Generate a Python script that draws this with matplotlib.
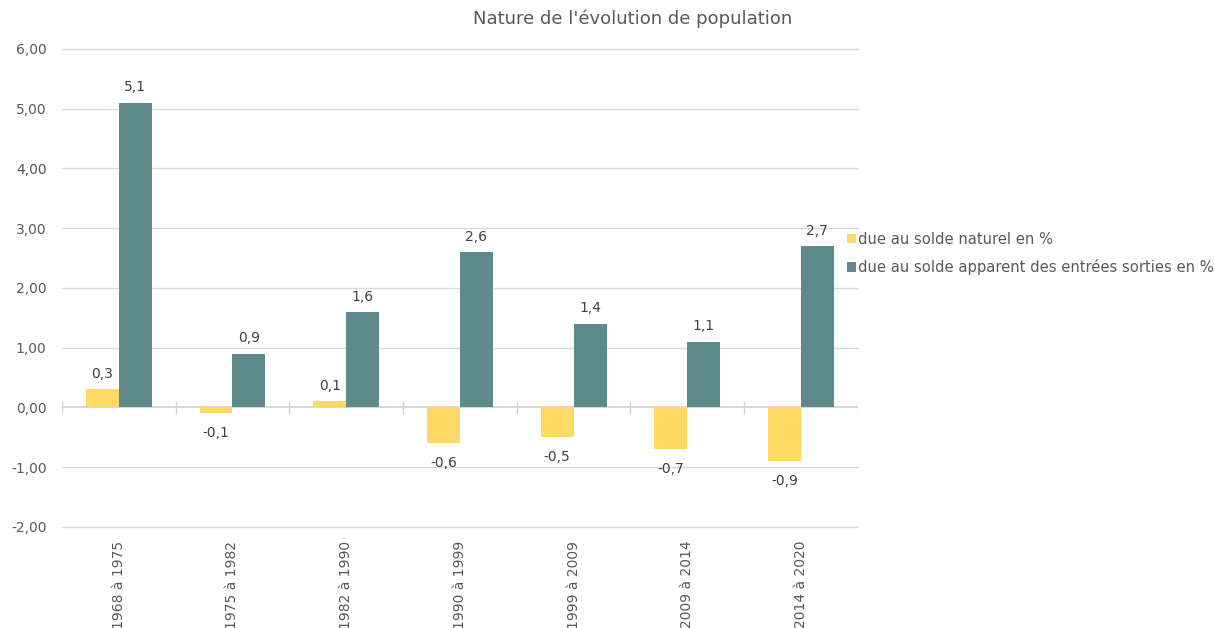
import matplotlib.pyplot as plt
import numpy as np

periods = ["1968 à 1975", "1975 à 1982", "1982 à 1990", "1990 à 1999",
           "1999 à 2009", "2009 à 2014", "2014 à 2020"]
solde_naturel = [0.3, -0.1, 0.1, -0.6, -0.5, -0.7, -0.9]
solde_apparent = [5.1, 0.9, 1.6, 2.6, 1.4, 1.1, 2.7]
y_ticks = [-2, -1, 0, 1, 2, 3, 4, 5, 6]

plt.rcParams['font.family'] = ['DejaVu Sans']

fig = plt.figure(figsize=(12.15, 6.28), dpi=100)
ax = fig.add_axes([0.051, 0.161, 0.655, 0.761])

x = np.arange(len(periods))
w = 0.29
yellow = '#FFD966'
teal = '#5F8A8B'
b1 = ax.bar(x - w / 2, solde_naturel, w, color=yellow, label='due au solde naturel en %', zorder=2)
b2 = ax.bar(x + w / 2, solde_apparent, w, color=teal,
            label='due au solde apparent des entrées sorties en %', zorder=2)

# étiquettes de données
for bars in (b1, b2):
    for rect in bars:
        v = rect.get_height()
        cx = rect.get_x() + rect.get_width() / 2
        txt = f'{v:.1f}'.replace('.', ',')
        if v >= 0:
            ax.annotate(txt, (cx, v), xytext=(0, 6), textcoords='offset points',
                        ha='center', va='bottom', fontsize=10, color='#404040')
        else:
            ax.annotate(txt, (cx, v), xytext=(0, -9), textcoords='offset points',
                        ha='center', va='top', fontsize=10, color='#404040')

ax.set_xlim(-0.5, len(periods) - 0.5)
ax.set_ylim(-2, 6)
ax.set_yticks(y_ticks)
ax.set_yticklabels([f'{t:.2f}'.replace('.', ',') for t in y_ticks], fontsize=10, color='#595959')
# quadrillage horizontal
for t in y_ticks:
    if t != 0:
        ax.axhline(t, color='#D9D9D9', linewidth=1, zorder=0, clip_on=False)
ax.tick_params(axis='y', length=0, pad=11)

ax.set_xticks(x)
ax.set_xticklabels(periods, rotation=90, fontsize=10, color='#595959', va='top')
ax.tick_params(axis='x', length=0, pad=10)
for s in ax.spines.values():
    s.set_visible(False)

# axe horizontal à zéro avec graduations
ax.axhline(0, color='#D0D0D0', linewidth=1.2, zorder=1)
for b in np.arange(-0.5, len(periods), 1.0):
    ax.plot([b, b], [-0.1, 0.09], color='#D0D0D0', linewidth=1, zorder=1)

fig.text(633 / 1215, 1 - 19 / 628, "Nature de l'évolution de population",
         ha='center', va='center', fontsize=13, color='#595959')

fig.legend(handles=[b1, b2], loc='upper left', bbox_to_anchor=(0.686, 0.652),
           frameon=False, fontsize=10.6, labelcolor='#595959', handlelength=0.62,
           handleheight=0.62, handletextpad=0.15, labelspacing=0.85)

fig.savefig('out.png', dpi=100)
